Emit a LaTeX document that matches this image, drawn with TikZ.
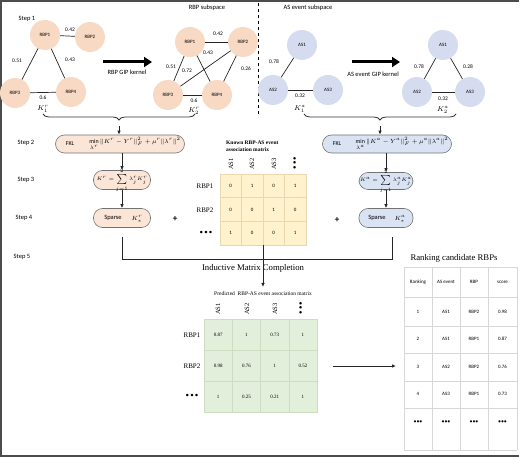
\documentclass[tikz,border=0pt]{standalone}
\usepackage{fontspec}
\setmainfont{Carlito}
\newfontfamily\seriffam{Liberation Serif}
\usetikzlibrary{arrows.meta,decorations.pathreplacing,calc}
\definecolor{peach}{RGB}{248,218,196}
\definecolor{lav}{RGB}{214,220,240}
\definecolor{boxpeach}{RGB}{251,229,214}
\definecolor{boxblue}{RGB}{218,227,243}
\definecolor{yel}{RGB}{255,242,204}
\definecolor{yelline}{RGB}{232,216,176}
\definecolor{grn}{RGB}{226,239,218}
\definecolor{grnline}{RGB}{204,221,194}
\definecolor{tabline}{RGB}{215,215,215}
\begin{document}
\begin{tikzpicture}[x=1pt,y=-1pt,
  rbp/.style={circle,fill=peach,minimum size=30pt,inner sep=0pt,font=\fontsize{5}{6}\selectfont},
  asn/.style={circle,fill=lav,minimum size=30pt,inner sep=0pt,font=\fontsize{5}{6}\selectfont},
  edge/.style={draw=black!85,line width=0.7pt},
  elab/.style={font=\fontsize{5.5}{6}\selectfont,inner sep=0.5pt},
  steplab/.style={font=\fontsize{6.5}{7}\selectfont,inner sep=0pt},
  klab/.style={font=\fontsize{7}{8}\selectfont,inner sep=0pt},
  bigarrow/.style={line width=3pt,-{Triangle[length=8pt,width=10pt]}},
  flow/.style={draw=black!85,line width=0.8pt},
  flowarrow/.style={flow,-{Latex[length=4pt,width=3.5pt]}},
  pbox/.style={rounded corners=9pt,draw=black!55,line width=0.6pt,inner sep=0pt},
  btxt/.style={inner sep=0pt},
  kcell/.style={draw=yelline,fill=yel,minimum width=21.5pt,minimum height=23.67pt,inner sep=0pt,font=\fontsize{5}{6}\selectfont},
  pcell/.style={draw=grnline,fill=grn,minimum width=28.25pt,minimum height=31pt,inner sep=0pt,font=\seriffam\fontsize{5}{6}\selectfont},
  rowlab/.style={font=\seriffam\fontsize{7}{8}\selectfont,inner sep=0pt},
  collab/.style={font=\seriffam\fontsize{6.5}{7}\selectfont,inner sep=0pt,rotate=90},
  tcell/.style={font=\fontsize{5}{6}\selectfont,inner sep=0pt},
  brc/.style={decorate,decoration={brace,mirror,amplitude=6pt},line width=0.8pt,draw=black!80}
]
\useasboundingbox (0,0) rectangle (520,457);
\fill[white] (0,0) rectangle (520,457);
% outer frame
\draw[black!70,line width=2pt] (519,1) -- (1,1) -- (1,456) -- (519,456);

% headers
\node[steplab] (s1) at (27,19) {Step 1};
\node[steplab] (s2) at (26,143) {Step 2};
\node[steplab] (s3) at (26,180) {Step 3};
\node[steplab] (s4) at (24,218) {Step 4};
\node[steplab] (s5) at (22,257) {Step 5};
\node[font=\fontsize{6.5}{7}\selectfont] (rsub) at (207,8) {RBP subspace};
\node[font=\fontsize{6.5}{7}\selectfont] (asub) at (308,8) {AS event subspace};
\coordinate (dt) at (258,3);
\coordinate (db) at (258,117);
\draw[dashed,line width=0.6pt] (dt) -- (db);

% left RBP graph
\node[rbp] (r1) at (45,35) {RBP1};
\node[rbp] (r2) at (90,37) {RBP2};
\node[rbp] (r3) at (15,93) {RBP3};
\node[rbp] (r4) at (71,92) {RBP4};
\draw[edge] (r1) -- (r2);
\draw[edge] (r1) -- (r3);
\draw[edge] (r1) -- (r4);
\draw[edge] (r3) -- (r4);
\node[elab] (e12) at (70,30) {0.42};
\node[elab] (e13) at (17,61) {0.51};
\node[elab] (e14) at (70,60) {0.43};
\node[elab] (e34) at (43,98) {0.6};
\node[klab] (k1r) at (43,109) {$K_1^r$};

\draw[bigarrow] (103,62) -- (152,62);
\node[font=\fontsize{6.5}{7}\selectfont] (rgip) at (127,72) {RBP GIP kernel};

% right RBP graph
\node[rbp] (q1) at (190,42) {RBP1};
\node[rbp] (q2) at (243,42) {RBP2};
\node[rbp] (q3) at (168,95) {RBP3};
\node[rbp] (q4) at (217,95) {RBP4};
\draw[edge] (q1) -- (q2);
\draw[edge] (q1) -- (q3);
\draw[edge] (q1) -- (q4);
\draw[edge] (q2) -- (q3);
\draw[edge] (q2) -- (q4);
\draw[edge] (q3) -- (q4);
\node[elab] (f12) at (218,34) {0.42};
\node[elab] (f13) at (171,67) {0.51};
\node[elab] (f14) at (208,53) {0.43};
\node[elab] (f23) at (187,71) {0.72};
\node[elab] (f24) at (246,69) {0.26};
\node[elab] (f34) at (194,101) {0.6};
\node[klab] (k2r) at (194,111) {$K_2^r$};

% left AS graph
\node[asn] (a1) at (302,45) {AS1};
\node[asn] (a2) at (273,90) {AS2};
\node[asn] (a3) at (328,90) {AS3};
\draw[edge] (a1) -- (a2);
\draw[edge] (a2) -- (a3);
\node[elab] (g12) at (274,62) {0.78};
\node[elab] (g23) at (300,96) {0.32};
\node[klab] (k1a) at (300,109) {$K_1^a$};

\draw[bigarrow] (352,62) -- (400,62);
\node[font=\fontsize{6.5}{7}\selectfont] (agip) at (373,74) {AS event GIP kernel};

% right AS graph
\node[asn] (b1) at (443,45) {AS1};
\node[asn] (b2) at (417,92) {AS2};
\node[asn] (b3) at (470,92) {AS3};
\draw[edge] (b1) -- (b2);
\draw[edge] (b1) -- (b3);
\draw[edge] (b2) -- (b3);
\node[elab] (h12) at (419,67) {0.78};
\node[elab] (h13) at (468,67) {0.28};
\node[elab] (h23) at (443,99) {0.32};
\node[klab] (k2a) at (443,110) {$K_2^a$};

% braces
\coordinate (bl1) at (43,114);
\coordinate (bl2) at (195,114);
\draw[brc] (bl1) -- (bl2);
\coordinate (blt) at (119,126);
\coordinate (br1) at (304,114);
\coordinate (br2) at (456,114);
\draw[brc] (br1) -- (br2);
\coordinate (brt) at (380,126);

% left pipeline
\node[pbox,fill=boxpeach,minimum width=129pt,minimum height=18pt] (fkl1) at (120,144) {};
\node[btxt,font=\fontsize{6}{7}\selectfont] (fkl1t) at (70,144) {FKL};
\node[btxt,font=\fontsize{6}{7}\selectfont] (fkl1f) at (135,144) {$\min\limits_{\lambda^r}\|K^r-Y^r\|_F^2+\mu^r\|\lambda^r\|^2$};
\node[pbox,fill=boxpeach,minimum width=57pt,minimum height=19pt] (sum1) at (122,180) {};
\node[btxt,font=\fontsize{5.5}{6}\selectfont] (sum1t) at (122,180) {$K^r=\sum\limits_{j=1}^{2}\lambda_j^r K_j^r$};
\node[pbox,fill=boxpeach,minimum width=57pt,minimum height=19pt] (sp1) at (122,218) {};
\node[btxt,font=\fontsize{6.5}{7}\selectfont] (sp1a) at (113,218) {Sparse};
\node[btxt,font=\fontsize{6.5}{7}\selectfont] (sp1b) at (137,219) {$K_*^r$};
\draw[flowarrow] (blt) -- (blt |- fkl1.north);
\draw[flowarrow] (fkl1.south -| sum1) -- (sum1.north);
\draw[flowarrow] (sum1) -- (sp1);

% right pipeline
\node[pbox,fill=boxblue,minimum width=129pt,minimum height=18pt] (fkl2) at (387,144) {};
\node[btxt,font=\fontsize{6}{7}\selectfont] (fkl2t) at (337,144) {FKL};
\node[btxt,font=\fontsize{6}{7}\selectfont] (fkl2f) at (402,144) {$\min\limits_{\lambda^a}\|K^a-Y^a\|_F^2+\mu^a\|\lambda^a\|^2$};
\node[pbox,fill=boxblue,minimum width=54pt,minimum height=17pt] (sum2) at (386,181) {};
\node[btxt,font=\fontsize{5.5}{6}\selectfont] (sum2t) at (386,181) {$K^a=\sum\limits_{j=1}^{2}\lambda_j^a K_j^a$};
\node[pbox,fill=boxblue,minimum width=54pt,minimum height=19pt] (sp2) at (386,218) {};
\node[btxt,font=\fontsize{6.5}{7}\selectfont] (sp2a) at (377,218) {Sparse};
\node[btxt,font=\fontsize{6.5}{7}\selectfont] (sp2b) at (400,219) {$K_*^a$};
\draw[flowarrow] (brt) -- (brt |- fkl2.north);
\draw[flowarrow] (fkl2.south -| sum2) -- (sum2.north);
\draw[flowarrow] (sum2) -- (sp2);

\node[font=\fontsize{9}{10}\selectfont\bfseries] (plus1) at (175,219) {+};
\node[font=\fontsize{9}{10}\selectfont\bfseries] (plus2) at (337,220) {+};

% known matrix
\node[font=\seriffam\fontsize{5.5}{6.5}\selectfont\bfseries,align=left,anchor=west,inner sep=0pt] (ktitle) at (226,146) {Known RBP-AS event\\association matrix};
\foreach \r/\vals in {1/{0,1,0,1},2/{0,0,1,0},3/{1,0,0,1}} {
  \foreach \v [count=\c] in \vals {
    \node[kcell] (k-\r-\c) at ({220+21.5*(\c-0.5)},{174+23.67*(\r-0.5)}) {\v};
  }
}
\node[collab] (kc1) at (231,164) {AS1};
\node[collab] (kc2) at (252,164) {AS2};
\node[collab] (kc3) at (274,164) {AS3};
\node[collab,font=\fontsize{7}{7}\selectfont] (kc4) at (295,163) {\textbullet\,\textbullet\,\textbullet};
\node[rowlab] (kr1) at (205,186) {RBP1};
\node[rowlab] (kr2) at (205,210) {RBP2};
\node[rowlab,font=\fontsize{7}{7}\selectfont] (kr3) at (206,233) {\textbullet\,\textbullet\,\textbullet};

% bottom collector
\coordinate (cl) at (122,237);
\coordinate (cr) at (392,237);
\coordinate (cy) at (0,259);
\draw[flow] (cl) -- (cl |- cy) -- (cr |- cy) -- (cr);
\node[font=\seriffam\fontsize{8.7}{10}\selectfont] (imc) at (253,268) {Inductive Matrix Completion};
\coordinate (ka) at (263,245);
\coordinate (kb) at (263,287);
\draw[flowarrow] (ka) -- (kb);

% predicted matrix
\node[font=\seriffam\fontsize{5.5}{6.5}\selectfont,inner sep=0pt] (ptitle) at (263,294) {Predicted\ \ RBP-AS event association matrix};
\foreach \r/\vals in {1/{0.87,1,0.73,1},2/{0.98,0.76,1,0.52},3/{1,0.25,0.21,1}} {
  \foreach \v [count=\c] in \vals {
    \node[pcell] (p-\r-\c) at ({204+28.25*(\c-0.5)},{319+31*(\r-0.5)}) {\v};
  }
}
\node[collab] (pc1) at (218,309) {AS1};
\node[collab] (pc2) at (247,309) {AS2};
\node[collab] (pc3) at (275,309) {AS3};
\node[collab,font=\fontsize{7}{7}\selectfont] (pc4) at (301,308) {\textbullet\,\textbullet\,\textbullet};
\node[rowlab] (pr1) at (192,335) {RBP1};
\node[rowlab] (pr2) at (192,366) {RBP2};
\node[rowlab,font=\fontsize{7}{7}\selectfont] (pr3) at (192,396) {\textbullet\,\textbullet\,\textbullet};

\coordinate (pa) at (333,366);
\coordinate (pb) at (396,366);
\draw[flowarrow] (pa) -- (pb);

% ranking table
\node[font=\seriffam\fontsize{8.7}{10}\selectfont] (rtitle) at (454,258) {Ranking candidate RBPs};
\foreach \xx in {404,432,460,488,517} { \draw[tabline,line width=0.6pt] (\xx,267) -- (\xx,450); }
\foreach \yy in {267,297,326,353,381,408,450} { \draw[tabline,line width=0.6pt] (404,\yy) -- (517,\yy); }
\foreach \row/\yy/\a/\b/\cc/\d in {0/282/Ranking/AS event/RBP/score,1/312/1/AS1/RBP2/0.98,2/339/2/AS1/RBP1/0.87,3/367/3/AS2/RBP2/0.76,4/394/4/AS3/RBP1/0.73} {
  \node[tcell] (t-\row-1) at (418,\yy) {\a};
  \node[tcell] (t-\row-2) at (446,\yy) {\b};
  \node[tcell] (t-\row-3) at (474,\yy) {\cc};
  \node[tcell] (t-\row-4) at (502.5,\yy) {\d};
}
\foreach \xx [count=\c] in {418,446,474,502.5} {
  \node[tcell,font=\fontsize{6}{6}\selectfont] (t-5-\c) at (\xx,422) {\textbullet\textbullet\textbullet};
}
\end{tikzpicture}
\end{document}
